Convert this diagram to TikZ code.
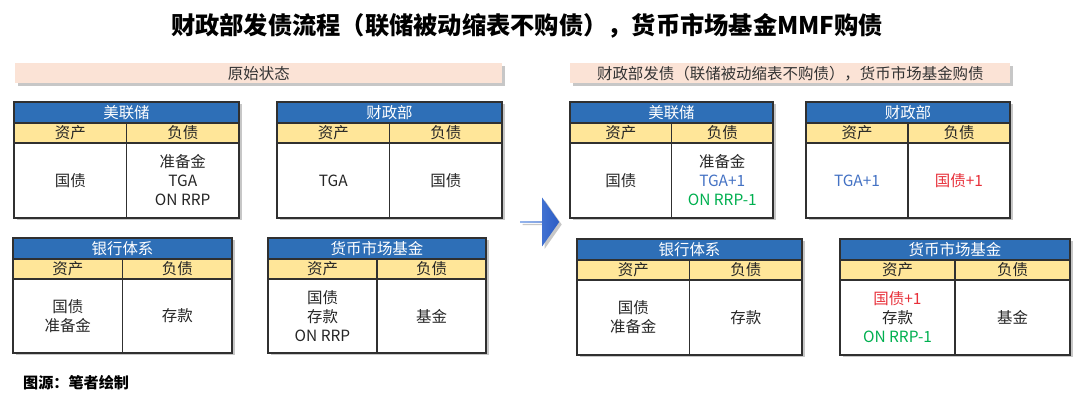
\documentclass[tikz,border=0pt]{standalone}
\usepackage{fontspec}
\setmainfont{Noto Sans CJK SC}
\usepackage{xcolor}
\usetikzlibrary{shapes.arrows,shadows}

\definecolor{titleblue}{HTML}{2E6FB7}
\definecolor{headyellow}{HTML}{FFE699}
\definecolor{barpeach}{HTML}{FBE3D6}
\definecolor{linegray}{HTML}{303030}
\definecolor{tgablue}{HTML}{4472C4}
\definecolor{rrpgreen}{HTML}{00B050}
\definecolor{bondred}{HTML}{E8303A}
\definecolor{arrowlight}{HTML}{5B8CE2}
\definecolor{arrowdark}{HTML}{2C5CC4}

\tikzset{
  softshadow/.style={drop shadow={shadow xshift=0.05cm,shadow yshift=-0.05cm,
    opacity=0.22,fill=black}},
  celltext/.style={font=\fontsize{8.8}{10.8}\selectfont},
  tabletitle/.style={draw=linegray,line width=0.7pt,fill=titleblue,text=white,
    minimum height=0.42cm,inner sep=0pt,outer sep=0pt,anchor=north west,
    celltext,softshadow},
  colhead/.style={draw=linegray,line width=0.7pt,fill=headyellow,text=black!85,
    minimum height=0.4cm,inner sep=0pt,outer sep=0pt,anchor=north west,
    celltext,softshadow},
  cellbody/.style={draw=linegray,line width=0.7pt,fill=white,text=black!85,
    minimum height=1.5cm,inner sep=0pt,outer sep=0pt,anchor=north west,
    align=center,celltext,softshadow},
  stagebar/.style={fill=barpeach,text=black!80,minimum height=0.4cm,
    inner sep=0pt,anchor=north west,celltext,softshadow}
}

\begin{document}
\begin{tikzpicture}
\useasboundingbox (0,0) rectangle (21.6,-8.18);

\path
    (10.54,-0.52) node [font=\bfseries\fontsize{13.8}{16}\selectfont] (title)
	{财政部发债流程（联储被动缩表不购债），货币市场基金MMF购债};

\path
    (0.3,-1.26) node [stagebar,minimum width=9.74cm] (before) {原始状态}
    (11.4,-1.26) node [stagebar,minimum width=8.8cm] (after)
	{财政部发债（联储被动缩表不购债），货币市场基金购债};

\path
    [minimum width=2.25cm]
    (0.28,-2.04) node [tabletitle,minimum width=4.5cm] (fedL) {美联储}
    (fedL.south west) node [colhead] (fedLhA) {资产}
    (fedLhA.north east) node [colhead] (fedLhL) {负债}
    (fedLhA.south west) node [cellbody] (fedLA) {国债}
    (fedLA.north east) node [cellbody] (fedLL) {准备金\\TGA\\ON RRP};

\path
    [minimum width=2.25cm]
    (5.54,-2.04) node [tabletitle,minimum width=4.5cm] (tsyL) {财政部}
    (tsyL.south west) node [colhead] (tsyLhA) {资产}
    (tsyLhA.north east) node [colhead] (tsyLhL) {负债}
    (tsyLhA.south west) node [cellbody] (tsyLA) {TGA}
    (tsyLA.north east) node [cellbody] (tsyLL) {国债};

\path
    [minimum width=2.19cm]
    (0.26,-4.76) node [tabletitle,minimum width=4.38cm] (bankL) {银行体系}
    (bankL.south west) node [colhead] (bankLhA) {资产}
    (bankLhA.north east) node [colhead] (bankLhL) {负债}
    (bankLhA.south west) node [cellbody,minimum height=1.48cm] (bankLA)
	{国债\\准备金}
    (bankLA.north east) node [cellbody,minimum height=1.48cm] (bankLL) {存款};

\path
    [minimum width=2.18cm]
    (5.36,-4.76) node [tabletitle,minimum width=4.36cm] (mmfL) {货币市场基金}
    (mmfL.south west) node [colhead] (mmfLhA) {资产}
    (mmfLhA.north east) node [colhead] (mmfLhL) {负债}
    (mmfLhA.south west) node [cellbody,minimum height=1.48cm] (mmfLA)
	{国债\\存款\\ON RRP}
    (mmfLA.north east) node [cellbody,minimum height=1.48cm] (mmfLL) {基金};

\path
    (10.79,-4.44) node [single arrow,single arrow tip angle=110,
      single arrow head extend=0.28cm,minimum height=0.78cm,
      minimum width=0.98cm,inner sep=0pt,shading angle=0,
      left color=arrowlight,right color=arrowdark,softshadow] (shift) {};

\path
    [minimum width=2.03cm]
    (11.4,-2.04) node [tabletitle,minimum width=4.06cm] (fedR) {美联储}
    (fedR.south west) node [colhead] (fedRhA) {资产}
    (fedRhA.north east) node [colhead] (fedRhL) {负债}
    (fedRhA.south west) node [cellbody] (fedRA) {国债}
    (fedRA.north east) node [cellbody] (fedRL)
	{准备金\\\textcolor{tgablue}{TGA+1}\\\textcolor{rrpgreen}{ON RRP-1}};

\path
    [minimum width=2.04cm]
    (16.12,-2.04) node [tabletitle,minimum width=4.08cm] (tsyR) {财政部}
    (tsyR.south west) node [colhead] (tsyRhA) {资产}
    (tsyRhA.north east) node [colhead] (tsyRhL) {负债}
    (tsyRhA.south west) node [cellbody,text=tgablue] (tsyRA) {TGA+1}
    (tsyRA.north east) node [cellbody,text=bondred] (tsyRL) {国债+1};

\path
    [minimum width=2.25cm]
    (11.54,-4.78) node [tabletitle,minimum width=4.5cm] (bankR) {银行体系}
    (bankR.south west) node [colhead] (bankRhA) {资产}
    (bankRhA.north east) node [colhead] (bankRhL) {负债}
    (bankRhA.south west) node [cellbody,minimum height=1.5cm] (bankRA)
	{国债\\准备金}
    (bankRA.north east) node [cellbody,minimum height=1.5cm] (bankRL) {存款};

\path
    [minimum width=2.3cm]
    (16.8,-4.78) node [tabletitle,minimum width=4.6cm] (mmfR) {货币市场基金}
    (mmfR.south west) node [colhead] (mmfRhA) {资产}
    (mmfRhA.north east) node [colhead] (mmfRhL) {负债}
    (mmfRhA.south west) node [cellbody,minimum height=1.5cm] (mmfRA)
	{\textcolor{bondred}{国债+1}\\存款\\\textcolor{rrpgreen}{ON RRP-1}}
    (mmfRA.north east) node [cellbody,minimum height=1.5cm] (mmfRL) {基金};

\path
    (0.34,-7.66) node [anchor=west,font=\bfseries\fontsize{8.6}{10}\selectfont]
	(source) {图源：笔者绘制};
\end{tikzpicture}
\end{document}
